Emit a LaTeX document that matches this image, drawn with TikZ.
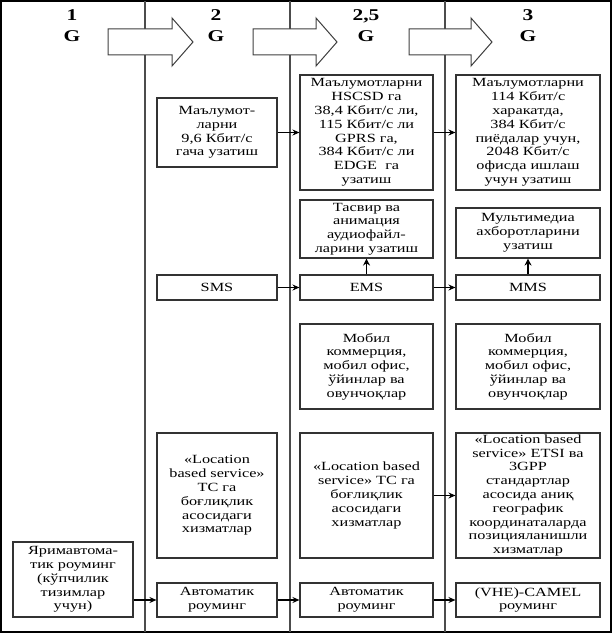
\documentclass[tikz,border=0pt]{standalone}
\usepackage{fontspec}
\setmainfont[FakeStretch=1.3]{Liberation Serif}
\usetikzlibrary{arrows.meta}
\begin{document}
\begin{tikzpicture}[x=1pt,y=-1pt,
  box/.style={draw=black!80, line width=1.1pt, rectangle, inner sep=0pt, align=center,
    font=\fontsize{12.5}{13.8}\selectfont},
  colline/.style={draw=black!70, line width=1.6pt},
  conn/.style={draw=black, line width=1.1pt, -{Stealth[length=7pt,width=6pt]}},
  upconn/.style={draw=black, line width=1.8pt, -{Stealth[length=7pt,width=7pt]}},
  hdr/.style={align=center, inner sep=0pt, font=\fontsize{16.5}{21}\selectfont\bfseries},
  bigarrow/.style={draw=black!75, line width=1pt, fill=white}]
\useasboundingbox (0,0) rectangle (613,634);
% frame and column lines
\draw[draw=black, line width=1.2pt] (1,1) rectangle (611,632);
\draw[colline] (145,1) -- (145,632);
\draw[colline] (290,1) -- (290,632);
\draw[colline] (445,1) -- (445,632);
% header
\node[hdr] (g1) at (72,26) {1\\G};
\node[hdr] (g2) at (216,26) {2\\G};
\node[hdr] (g25) at (366,26) {2,5\\G};
\node[hdr] (g3) at (528,26) {3\\G};
\draw[bigarrow] (108,29) -- (172,29) -- (172,18) -- (193,42) -- (172,66) -- (172,55) -- (108,55) -- cycle;
\draw[bigarrow] (253,29) -- (316,29) -- (316,18) -- (337,42) -- (316,66) -- (316,55) -- (253,55) -- cycle;
\draw[bigarrow] (409,29) -- (471,29) -- (471,18) -- (492,42) -- (471,66) -- (471,55) -- (409,55) -- cycle;
% row 1
\node[box, minimum width=120pt, minimum height=69pt] (d2) at (217,132.5) {Маълумот-\\ларни\\9,6 Кбит/с\\гача узатиш};
\node[box, minimum width=133pt, minimum height=115pt] (d25) at (366.5,132.5) {Маълумотларни\\HSCSD га\\38,4 Кбит/с ли,\\115 Кбит/с ли\\GPRS га,\\384 Кбит/с ли\\EDGE~ га\\узатиш};
\node[box, minimum width=144pt, minimum height=115pt] (d3) at (528,132.5) {Маълумотларни\\114 Кбит/с\\харакатда,\\384 Кбит/с\\пиёдалар учун,\\2048 Кбит/с\\офисда ишлаш\\учун узатиш};
% row 2
\node[box, minimum width=133pt, minimum height=58pt] (img) at (366.5,229) {Тасвир ва\\анимация\\аудиофайл-\\ларини узатиш};
\node[box, minimum width=144pt, minimum height=50pt] (mm) at (528,233) {Мультимедиа\\ахборотларини\\узатиш};
% row 3
\node[box, minimum width=120pt, minimum height=25pt] (sms) at (217,287.5) {SMS};
\node[box, minimum width=133pt, minimum height=25pt] (ems) at (366.5,287.5) {EMS};
\node[box, minimum width=144pt, minimum height=25pt] (mms) at (528,287.5) {MMS};
% row 4
\node[box, minimum width=133pt, minimum height=85pt] (mob25) at (366.5,366.5) {Мобил\\коммерция,\\мобил офис,\\ўйинлар ва\\овунчоқлар};
\node[box, minimum width=144pt, minimum height=85pt] (mob3) at (528,366.5) {Мобил\\коммерция,\\мобил офис,\\ўйинлар ва\\овунчоқлар};
% row 5
\node[box, minimum width=120pt, minimum height=125pt] (loc2) at (217,495.5) {«Location\\based service»\\ТС га\\боғлиқлик\\асосидаги\\хизматлар};
\node[box, minimum width=133pt, minimum height=125pt] (loc25) at (366.5,495.5) {«Location based\\service» ТС га\\боғлиқлик\\асосидаги\\хизматлар};
\node[box, minimum width=144pt, minimum height=125pt] (loc3) at (528,495.5) {«Location based\\service» ETSI ва\\3GPP\\стандартлар\\асосида аниқ\\географик\\координаталарда\\позицияланишли\\хизматлар};
% row 6
\node[box, minimum width=120pt, minimum height=75pt] (yarim) at (73,579.5) {Яримавтома-\\тик роуминг\\(кўпчилик\\тизимлар\\учун)};
\node[box, minimum width=120pt, minimum height=34pt] (avt2) at (217,600) {Автоматик\\роуминг};
\node[box, minimum width=133pt, minimum height=34pt] (avt25) at (366.5,600) {Автоматик\\роуминг};
\node[box, minimum width=144pt, minimum height=34pt] (vhe) at (528,600) {(VHE)-CAMEL\\роуминг};
% connectors
\draw[conn] (d2.east) -- (d25.west);
\draw[conn] (d25.east) -- (d3.west);
\draw[conn] (sms.east) -- (ems.west);
\draw[conn] (ems.east) -- (mms.west);
\draw[upconn] (ems.north) -- (img.south);
\draw[upconn] (mms.north) -- (mm.south);
\draw[conn] (loc25.east) -- (loc3.west);
\draw[conn] (yarim.east |- avt2.west) -- (avt2.west);
\draw[conn] (avt2.east) -- (avt25.west);
\draw[conn] (avt25.east) -- (vhe.west);
\end{tikzpicture}
\end{document}
